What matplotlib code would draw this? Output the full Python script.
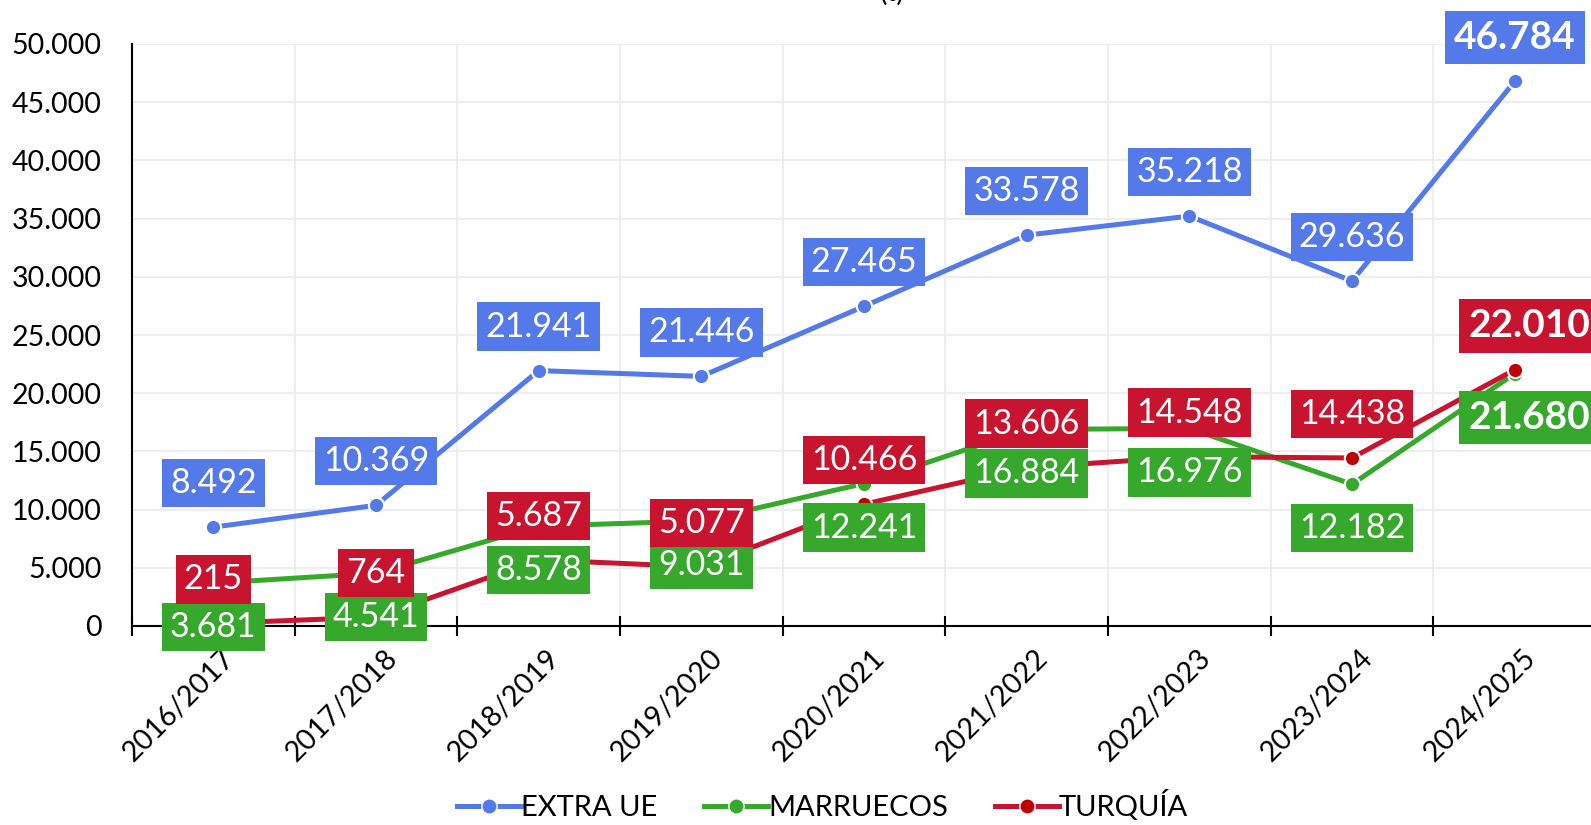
import matplotlib
matplotlib.use("AGG")
from matplotlib import pyplot as plt
from matplotlib.lines import Line2D

campaigns = ["2016/2017", "2017/2018", "2018/2019", "2019/2020", "2020/2021",
             "2021/2022", "2022/2023", "2023/2024", "2024/2025"]
extra_ue = [8492, 10369, 21941, 21446, 27465, 33578, 35218, 29636, 46784]
marruecos = [3681, 4541, 8578, 9031, 12241, 16884, 16976, 12182, 21680]
turquia = [215, 764, 5687, 5077, 10466, 13606, 14548, 14438, 22010]
y_ticks = [0, 5000, 10000, 15000, 20000, 25000, 30000, 35000, 40000, 45000, 50000]

BLUE = "#5479E8"
GREEN = "#36A82C"
RED = "#C8142E"
RED_MK = "#C00000"

plt.rcParams['font.family'] = ['Lato', 'DejaVu Sans']


def fmt(v):
    return f"{v:,}".replace(",", ".")


fig = plt.figure(figsize=(15.91, 8.25), dpi=100)
ax = fig.add_axes([132 / 1591, 1 - 626 / 825, 1464 / 1591, 582 / 825])

x = list(range(len(campaigns)))
series = [
    ("EXTRA UE", extra_ue, BLUE, BLUE, 1),
    ("MARRUECOS", marruecos, GREEN, GREEN, -1),
    ("TURQUÍA", turquia, RED, RED_MK, 1),
]
for name, vals, col, mk, side in series:
    ax.plot(x, vals, color=col, lw=3.6, marker="o", ms=11, mfc=mk,
            mec="white", mew=1.5, zorder=3, solid_capstyle="round")

# data labels (red drawn after green so it sits on top where they touch)
for name, vals, col, mk, side in series:
    for i, v in enumerate(vals):
        last = i == len(vals) - 1
        dx = 15 if (last and side == -1) or (last and col == RED) else 0
        ax.annotate(fmt(v), (i, v), xytext=(dx, 44 * side), textcoords="offset pixels",
                    ha="center", va="center", color="white",
                    fontsize=28 if last else 24.5,
                    fontweight="bold" if last else "normal",
                    bbox=dict(boxstyle="square,pad=0.24", fc=col, ec="none"),
                    zorder=5, annotation_clip=False)

ax.set_xlim(-0.5, len(campaigns) - 0.5)
ax.set_ylim(0, 50000)
ax.set_yticks(y_ticks)
ax.set_yticklabels([fmt(v) for v in y_ticks], fontsize=20.5)
# tick labels sit a bit right of the category centre, like the original
ax.set_xticks([i + 0.105 for i in x])
ax.set_xticklabels(campaigns, rotation=45, ha="right", va="center",
                   rotation_mode="anchor", fontsize=20.5)
ax.set_xticks([i - 0.5 for i in range(len(campaigns) + 1)], minor=True)
ax.tick_params(axis="x", which="major", length=0, pad=20)
ax.tick_params(axis="x", which="minor", length=14, width=1.5, direction="inout")
ax.tick_params(axis="y", length=0, pad=22)

ax.grid(True, axis="y", color="#EEEEEE", lw=1.5)
ax.grid(True, axis="x", which="minor", color="#EEEEEE", lw=1.5)
ax.set_axisbelow(True)
for s in ["top", "right"]:
    ax.spines[s].set_visible(False)
ax.spines["left"].set_linewidth(1.5)
ax.spines["bottom"].set_linewidth(1.5)

handles = [Line2D([], [], color=c, lw=3.6, marker="o", ms=11, mfc=m, mec="white", mew=1)
           for _, _, c, m, _ in series]
fig.legend(handles, [s[0] for s in series], loc="center", bbox_to_anchor=(0.517, 1 - 806 / 825),
           ncol=3, frameon=False, fontsize=21, handlelength=2.2, handletextpad=0.0,
           columnspacing=1.6)

fig.text(892 / 1591, 1 - 1 / 825, "(t)", ha="center", va="baseline", fontsize=20)

fig.savefig("out.png", dpi=100)
